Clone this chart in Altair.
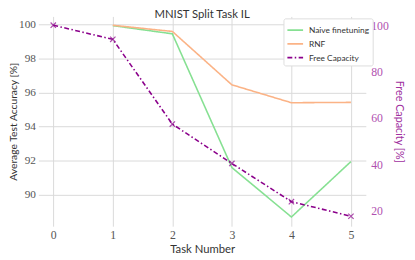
import altair as alt
import pandas as pd

# ---- data ----
tasks = [0, 1, 2, 3, 4, 5]
acc_tasks = [1, 2, 3, 4, 5]
naive_finetuning = [99.92, 99.44, 91.6, 88.7, 91.95]
rnf = [99.94, 99.58, 96.45, 95.4, 95.42]
free_capacity = [100.0, 93.9, 57.3, 40.3, 23.8, 17.5]

series_names = ["Naive finetuning", "RNF", "Free Capacity"]
series_colors = ["#86e092", "#fbb386", "#8b008b"]
series_dash = [[1, 0], [1, 0], [5, 2.5, 1.5, 2.5]]

left_ticks = [90, 92, 94, 96, 98, 100]
right_ticks = [20, 40, 60, 80, 100]

acc_df = pd.DataFrame({
    "task": acc_tasks * 2,
    "value": naive_finetuning + rnf,
    "series": ["Naive finetuning"] * len(acc_tasks) + ["RNF"] * len(acc_tasks),
})
cap_df = pd.DataFrame({
    "task": tasks,
    "value": free_capacity,
    "series": ["Free Capacity"] * len(tasks),
})

tick_font = "Liberation Serif"
title_font = "Lato"

x_enc = alt.X(
    "task:Q",
    scale=alt.Scale(domain=[-0.25, 5.25], nice=False, zero=False),
    axis=alt.Axis(values=tasks, format="d", title="Task Number", grid=True,
                  domain=False, ticks=False, labelPadding=4, titlePadding=3,
                  labelFont=tick_font, labelFontSize=12, labelColor="#555",
                  titleFont=title_font, titleFontSize=11.5, titleFontWeight="normal",
                  titleColor="#333", gridColor="#d9d9d9"),
)

color_enc = alt.Color("series:N", scale=alt.Scale(domain=series_names, range=series_colors),
                      legend=alt.Legend(title=None))
dash_enc = alt.StrokeDash("series:N", scale=alt.Scale(domain=series_names, range=series_dash),
                          legend=alt.Legend(title=None))

left = alt.Chart(acc_df).mark_line(strokeWidth=1.6).encode(
    x=x_enc,
    y=alt.Y("value:Q",
            scale=alt.Scale(domain=[88.16, 100.46], nice=False, zero=False),
            axis=alt.Axis(values=left_ticks, title="Average Test Accuracy [%]", grid=True,
                          domain=False, ticks=False, labelPadding=3, titlePadding=0.5,
                          labelFont=tick_font, labelFontSize=11.5, labelColor="#555",
                          titleFont=title_font, titleFontSize=10.5, titleFontWeight="normal",
                          titleColor="#333", gridColor="#d9d9d9")),
    color=color_enc,
    strokeDash=dash_enc,
)

right_y = alt.Y("value:Q",
                scale=alt.Scale(domain=[13.2, 103.8], nice=False, zero=False),
                axis=alt.Axis(values=right_ticks, orient="right", title="Free Capacity [%]",
                              grid=False, domain=False, ticks=False, labelPadding=5,
                              titlePadding=5, labelFont=tick_font, labelFontSize=12,
                              labelColor="#b050b0", titleFont=title_font, titleFontSize=11,
                              titleFontWeight="normal", titleColor="#a030a0"))

cap_line = alt.Chart(cap_df).mark_line(strokeWidth=1.6).encode(
    x=alt.X("task:Q"),
    y=right_y,
    color=color_enc,
    strokeDash=dash_enc,
)
cap_pts = alt.Chart(cap_df).mark_point(
    shape="M-1,-1L1,1M-1,1L1,-1", size=30, filled=False, strokeWidth=1.2,
    color="#8b008b",
).encode(
    x=alt.X("task:Q"),
    y=alt.Y("value:Q"),
)

right = alt.layer(cap_line, cap_pts)

chart = alt.layer(left, right).resolve_scale(y="independent").properties(
    width=334,
    height=214,
    title=alt.TitleParams("MNIST Split Task IL", font=title_font, fontSize=11.5,
                          fontWeight="normal", color="#333", offset=-4),
    autosize=alt.AutoSizeParams(type="none"),
    padding={"left": 31, "top": 6, "right": 42, "bottom": 38},
).configure_view(stroke=None).configure_legend(
    orient="none", legendX=250, legendY=2,
    labelFont=title_font, labelFontSize=8.5, labelColor="#333",
    symbolStrokeWidth=1.6, symbolSize=256, symbolType="stroke",
    rowPadding=-7, padding=3, strokeColor="#dddddd", fillColor="white",
    cornerRadius=2, labelOffset=5,
)

chart.save("out.html", embed_options={"renderer": "svg", "actions": False})
